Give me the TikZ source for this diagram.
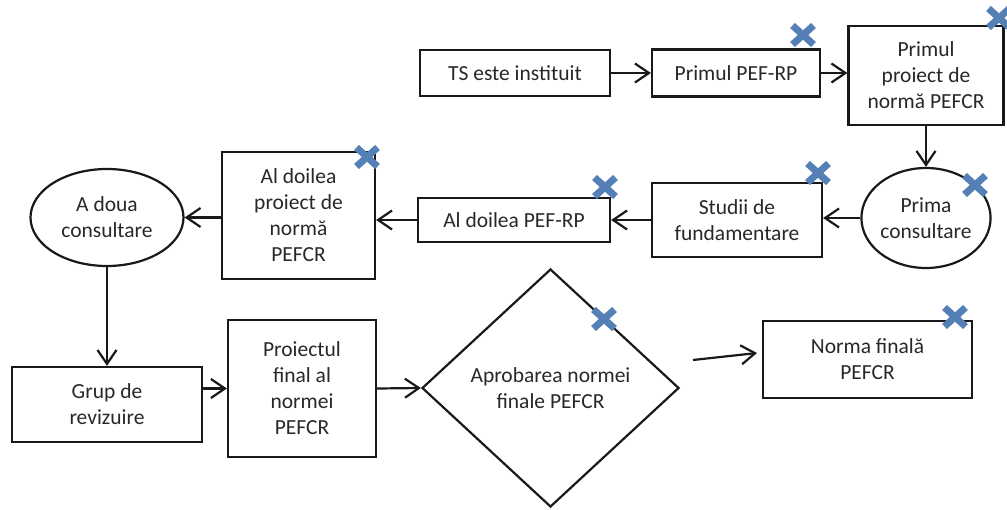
\documentclass[tikz,border=0pt]{standalone}
\usepackage{fontspec}
\setmainfont{Carlito}
\usetikzlibrary{shapes.geometric,arrows.meta,calc}
\definecolor{crossblue}{RGB}{84,128,182}
\definecolor{txt}{RGB}{40,40,40}
\definecolor{ln}{RGB}{25,25,25}
\tikzset{
  stepbox/.style={draw=ln, line width=2.2pt, inner sep=0pt, align=center, text=txt,
    font=\fontsize{21.5}{26}\selectfont},
  ovalbox/.style={stepbox, ellipse},
  decbox/.style={stepbox, diamond},
  arr/.style={draw=ln, line width=2.2pt, -{Straight Barb[length=14pt,width=19pt,line width=2.2pt]}},
  xmark/.style={draw=crossblue, line width=7pt, line cap=butt}
}
\newcommand{\xcross}[1]{%
  \draw[xmark] ($(#1)+(-10.5,-9.5)$) -- ($(#1)+(10.5,9.5)$);
  \draw[xmark] ($(#1)+(-10.5,9.5)$) -- ($(#1)+(10.5,-9.5)$);}
\begin{document}
\begin{tikzpicture}[x=1pt,y=-1pt]
\useasboundingbox (0,0) rectangle (1007,509);

\node[stepbox, minimum width=190pt, minimum height=46pt] (ts) at (515,73) {TS este instituit};
\node[stepbox, minimum width=168pt, minimum height=47pt] (pef1) at (736,73) {Primul PEF-RP};
\node[stepbox, minimum width=155pt, minimum height=99pt] (pp1) at (926,75.5) {Primul\\proiect de\\normă PEFCR};
\node[ovalbox, minimum width=129pt, minimum height=100pt] (prima) at (926,218) {Prima\\consultare};
\node[stepbox, minimum width=170pt, minimum height=74pt] (studii) at (737,220) {Studii de\\fundamentare};
\node[stepbox, minimum width=192pt, minimum height=44pt] (pef2) at (514,220) {Al doilea PEF-RP};
\node[stepbox, minimum width=153pt, minimum height=127pt] (pp2) at (298.5,215.5) {Al doilea\\proiect de\\normă\\PEFCR};
\node[ovalbox, minimum width=153pt, minimum height=97pt] (adoua) at (107,217.5) {A doua\\consultare};
\node[stepbox, minimum width=190pt, minimum height=75pt] (grup) at (107,404.5) {Grup de\\revizuire};
\node[stepbox, minimum width=148pt, minimum height=137pt] (pfinal) at (302,388.5) {Proiectul\\final al\\normei\\PEFCR};
\node[decbox, minimum width=257pt, minimum height=238pt] (aprob) at (550.5,388) {Aprobarea normei\\finale PEFCR};
\node[stepbox, minimum width=209pt, minimum height=77pt] (norma) at (867.5,359.5) {Norma finală\\PEFCR};

\coordinate (fa) at (693,360);
\coordinate (fb) at (757,353);

\draw[arr] (ts.east) -- (pef1.west);
\draw[arr] (pef1.east) -- (pef1.east -| pp1.west);
\draw[arr] (pp1.south) -- (prima.north);
\draw[arr] (prima.west) -- (studii.east |- prima.west);
\draw[arr] (studii.west) -- (pef2.east);
\draw[arr] (pef2.west) -- (pef2.west -| pp2.east);
\draw[arr] (pp2.west |- adoua.east) -- (adoua.east);
\draw[arr] (adoua.south) -- (grup.north);
\draw[arr] (grup.east |- pfinal.west) -- (pfinal.west);
\draw[arr] (pfinal.east) -- (aprob.west);
\draw[arr] (fa) -- (fb);

\coordinate (c1) at (803,35);
\coordinate (c2) at (999,18);
\coordinate (c3) at (975,185);
\coordinate (c4) at (818,173);
\coordinate (c5) at (605,187);
\coordinate (c6) at (367,157);
\coordinate (c7) at (604,319);
\coordinate (c8) at (955,317);
\xcross{c1}\xcross{c2}\xcross{c3}\xcross{c4}
\xcross{c5}\xcross{c6}\xcross{c7}\xcross{c8}
\end{tikzpicture}
\end{document}
